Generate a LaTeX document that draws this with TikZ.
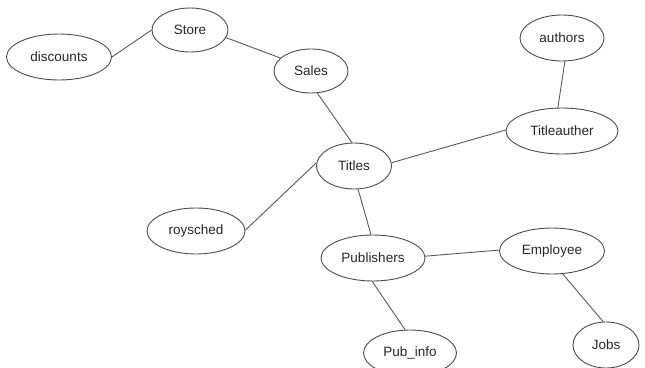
\documentclass[tikz,border=0pt]{standalone}
\usepackage{fontspec}
\setmainfont{Liberation Sans}
\usetikzlibrary{shapes.geometric}
\begin{document}
\begin{tikzpicture}[x=1pt,y=-1pt,
  ent/.style={ellipse,draw=black!70,line width=0.9pt,inner sep=0pt,minimum height=46pt,font=\fontsize{13.5}{15}\selectfont,text=black!85},
  rel/.style={draw=black!65,line width=0.9pt}]
\clip (0,0) rectangle (645,367);
\useasboundingbox (0,0) rectangle (645,367);
\node[ent,minimum width=105pt] (discounts) at (59,57) {discounts};
\node[ent,minimum width=76pt,minimum height=44pt] (store) at (190,30) {Store};
\node[ent,minimum width=74pt,minimum height=44pt] (sales) at (311,71) {Sales};
\node[ent,minimum width=84pt] (authors) at (562,38) {authors};
\node[ent,minimum width=112pt] (titleauther) at (562,131) {Titleauther};
\node[ent,minimum width=75pt] (titles) at (354,166) {Titles};
\node[ent,minimum width=98pt] (roysched) at (196,231) {roysched};
\node[ent,minimum width=104pt] (publishers) at (373,258) {Publishers};
\node[ent,minimum width=105pt] (employee) at (552,251) {Employee};
\node[ent,minimum width=93pt] (pubinfo) at (410,353) {Pub\_info};
\node[ent,minimum width=66pt] (jobs) at (606,345) {Jobs};
\draw[rel] (discounts.0) -- (store.180);
\draw[rel] (store.-12) -- (sales.157);
\draw[rel] (sales.-74) -- (titles.95);
\draw[rel] (titles.5) -- (titleauther.179);
\draw[rel] (authors.-83) -- (titleauther.100);
\draw[rel] (titles.175) -- (roysched.1);
\draw[rel] (titles.-80) -- (publishers.95);
\draw[rel] (publishers.2) -- (employee.179);
\draw[rel] (publishers.-92) -- (pubinfo.102);
\draw[rel] (employee.-65) -- (jobs.97);
\end{tikzpicture}
\end{document}
